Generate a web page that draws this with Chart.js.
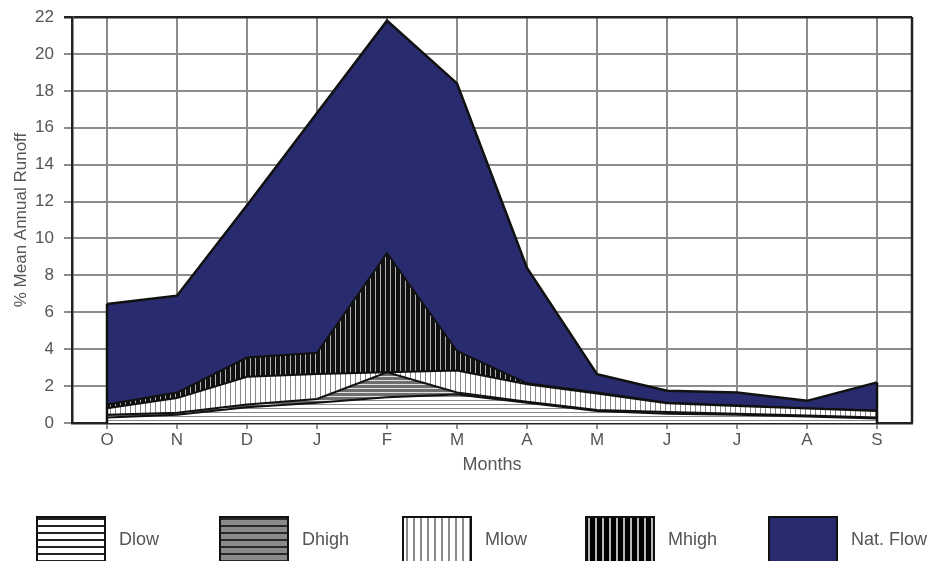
<!DOCTYPE html>
<html>
<head>
<meta charset="utf-8">
<script src="https://cdn.jsdelivr.net/npm/chart.js@4.4.0/dist/chart.umd.min.js"></script>
<style>
  html, body { margin: 0; padding: 0; background: #fff; overflow: hidden; }
  #wrap { width: 937px; height: 561px; }
</style>
</head>
<body>
<div id="wrap"><canvas id="runoff" width="937" height="561"></canvas></div>
<script>
const months = ['O', 'N', 'D', 'J', 'F', 'M', 'A', 'M', 'J', 'J', 'A', 'S'];
const yTicks = [0, 2, 4, 6, 8, 10, 12, 14, 16, 18, 20, 22];

// layer thickness per month (stacked, % MAR)
const dlow   = [0.30, 0.45, 0.85, 1.10, 1.40, 1.55, 1.10, 0.65, 0.50, 0.45, 0.35, 0.25];
const dhigh  = [0.15, 0.10, 0.15, 0.20, 1.35, 0.10, 0.05, 0.05, 0.10, 0.05, 0.05, 0.05];
const mlow   = [0.35, 0.80, 1.50, 1.35, 0.00, 1.20, 0.95, 0.90, 0.47, 0.42, 0.38, 0.35];
const mhigh  = [0.20, 0.30, 1.05, 1.15, 6.45, 1.05, 0.05, 0.05, 0.03, 0.03, 0.02, 0.03];
const natFlow = [5.45, 5.25, 8.25, 13.0, 12.6, 14.5, 6.25, 1.00, 0.65, 0.70, 0.40, 1.52];

const makePattern = (w, h, bg, line, vertical, step, lw) => {
    const c = document.createElement('canvas');
    c.width = w; c.height = h;
    const g = c.getContext('2d');
    g.fillStyle = bg;
    g.fillRect(0, 0, w, h);
    g.fillStyle = line;
    for (let i = 0; i < (vertical ? w : h); i += step) {
        if (vertical) g.fillRect(i, 0, lw, h);
        else g.fillRect(0, i, w, lw);
    }
    return g.createPattern(c, 'repeat');
};

const ctx = document.getElementById('runoff');
const NAVY = '#282b6e';
const patDlow  = makePattern(8, 8, '#ffffff', '#8a8a8a', false, 4, 1);
const patDhigh = makePattern(8, 8, '#6e6e6e', '#e0e0e0', false, 4, 1);
const patMlow  = makePattern(10, 10, '#ffffff', '#8a8a8a', true, 5, 1);
const patMhigh = makePattern(10, 10, '#111111', '#b0b0b0', true, 5, 1);

// bigger patterns for the legend swatches
const legendFills = [
    makePattern(14, 14, '#ffffff', '#222222', false, 7, 2),
    makePattern(14, 14, '#8a8a8a', '#2a2a2a', false, 7, 2),
    makePattern(14, 14, '#ffffff', '#8a8a8a', true, 7, 2),
    makePattern(14, 14, '#000000', '#b8b8b8', true, 7, 2),
    NAVY
];

const layer = (label, data, bg, fill) => ({
    label: label,
    data: data,
    backgroundColor: bg,
    borderColor: '#111',
    borderWidth: 2,
    pointRadius: 0,
    tension: 0,
    fill: fill
});

const frame = {
    id: 'frame',
    afterDatasetsDraw(chart) {
        const a = chart.chartArea;
        const g = chart.ctx;
        const x = chart.scales.x, y = chart.scales.y;
        const last = months.length - 1;
        const top = (i) => dlow[i] + dhigh[i] + mlow[i] + mhigh[i] + natFlow[i];
        g.save();
        g.strokeStyle = '#111';
        g.lineWidth = 2.5;
        g.beginPath();
        g.moveTo(x.getPixelForValue(0), y.getPixelForValue(top(0)));
        g.lineTo(x.getPixelForValue(0), y.getPixelForValue(0));
        g.moveTo(x.getPixelForValue(last), y.getPixelForValue(top(last)));
        g.lineTo(x.getPixelForValue(last), y.getPixelForValue(0));
        g.stroke();
        g.strokeStyle = '#222';
        g.beginPath();
        g.moveTo(a.right, a.top);
        g.lineTo(a.right, a.bottom);
        g.stroke();
        g.restore();
    },
    afterDraw(chart) {
        // legend row under the plot
        const g = chart.ctx;
        g.save();
        g.font = '18px "Liberation Sans"';
        g.textBaseline = 'middle';
        chart.data.datasets.forEach((ds, i) => {
            const bx = 37 + i * 183;
            g.fillStyle = legendFills[i];
            g.fillRect(bx, 517, 68, 46);
            g.strokeStyle = '#111';
            g.lineWidth = 2;
            g.strokeRect(bx, 517, 68, 46);
            g.fillStyle = '#555';
            g.fillText(ds.label, bx + 82, 540);
        });
        g.restore();
    }
};

new Chart(ctx, {
    type: 'line',
    data: {
        labels: months,
        datasets: [
            layer('Dlow', dlow, patDlow, 'origin'),
            layer('Dhigh', dhigh, patDhigh, '-1'),
            layer('Mlow', mlow, patMlow, '-1'),
            layer('Mhigh', mhigh, patMhigh, '-1'),
            Object.assign(layer('Nat. Flow', natFlow, NAVY, '-1'), { borderWidth: 2.5 })
        ]
    },
    plugins: [frame],
    options: {
        responsive: false,
        animation: false,
        layout: { padding: { top: 17, right: 25, bottom: 81, left: 7 } },
        plugins: {
            tooltip: { enabled: false },
            legend: { display: false }
        },
        scales: {
            x: {
                offset: true,
                afterFit: (s) => { s.height = 57; },
                grid: {
                    offset: false,
                    color: '#8c8c8c',
                    lineWidth: 2,
                    tickLength: 6
                },
                border: { color: '#222', width: 2.5 },
                ticks: {
                    color: '#555',
                    padding: 1,
                    font: { family: 'Liberation Sans', size: 17 }
                },
                title: {
                    display: true,
                    text: 'Months',
                    color: '#555',
                    font: { family: 'Liberation Sans', size: 18 }
                }
            },
            y: {
                stacked: true,
                min: 0,
                max: 22,
                afterFit: (s) => { s.width = 65; s.paddingTop = 0; s.paddingBottom = 0; },
                afterBuildTicks: (s) => { s.ticks = yTicks.map(v => ({ value: v })); },
                grid: {
                    color: (c) => c.tick && c.tick.value === 22 ? '#222' : '#8c8c8c',
                    lineWidth: (c) => c.tick && c.tick.value === 22 ? 2.5 : 2,
                    tickLength: 8
                },
                border: { color: '#222', width: 2.5 },
                ticks: {
                    color: '#555',
                    padding: 10,
                    font: { family: 'Liberation Sans', size: 17 }
                },
                title: {
                    display: true,
                    text: '% Mean Annual Runoff',
                    color: '#555',
                    font: { family: 'Liberation Sans', size: 17 }
                }
            }
        }
    }
});
</script>
</body>
</html>
